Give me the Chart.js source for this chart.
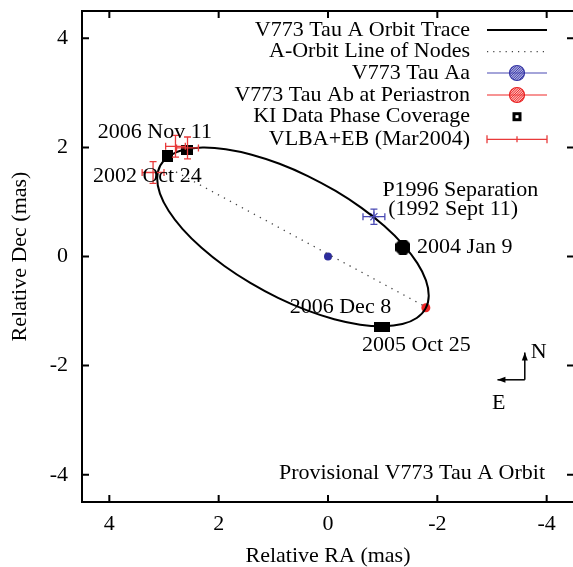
<!DOCTYPE html>
<html><head><meta charset="utf-8">
<script src="https://cdn.jsdelivr.net/npm/chart.js@4.4.0/dist/chart.umd.min.js"></script>
<style>
html,body{margin:0;padding:0;background:#fff;overflow:hidden;}
#wrap{position:relative;width:576px;height:567px;}
</style></head><body>
<div id="wrap"><canvas id="c" width="576" height="567"></canvas></div>
<script>
// ---------------- data (mas) ----------------
const tickValues = [-4, -2, 0, 2, 4];
const orbitRA  = [-1.786, -1.623, -1.361, -1.011, -0.589, -0.114, 0.395, 0.914, 1.421, 1.895, 2.313, 2.659, 2.916, 3.074, 3.125, 3.068, 2.905, 2.643, 2.293, 1.871, 1.396, 0.887, 0.368, -0.139, -0.613, -1.031, -1.377, -1.634, -1.792, -1.843];
const orbitDec = [-0.951, -1.127, -1.239, -1.280, -1.250, -1.150, -0.984, -0.759, -0.485, -0.175, 0.159, 0.502, 0.838, 1.153, 1.434, 1.667, 1.843, 1.955, 1.996, 1.966, 1.866, 1.700, 1.475, 1.201, 0.891, 0.557, 0.214, -0.122, -0.437, -0.718];
const nodesRA  = [2.78, -1.80];
const nodesDec = [1.55, -0.93];
const aaRA = [0], aaDec = [0];
const abRA = [-1.79], abDec = [-0.94];
const kiRA  = [2.93, 2.58, -1.37, -0.98];
const kiDec = [1.84, 1.95, 0.17, -1.29];
const vlbaRA = [3.20, 2.79, 2.57];
const vlbaDec = [1.54, 2.02, 1.99];
const vlbaErrRA = [0.20, 0.18, 0.20];
const vlbaErrDec = [0.20, 0.20, 0.20];
const p1996RA = [-0.84], p1996Dec = [0.73];
const p1996ErrRA = [0.20], p1996ErrDec = [0.14];
const legendLabels = ["V773 Tau A Orbit Trace", "A-Orbit Line of Nodes", "V773 Tau Aa", "V773 Tau Ab at Periastron", "KI Data Phase Coverage", "VLBA+EB (Mar2004)"];
const noteTexts = ["2006 Nov 11", "2002 Oct 24", "P1996 Separation", "(1992 Sept 11)", "2004 Jan 9", "2006 Dec 8", "2005 Oct 25", "Provisional V773 Tau A Orbit"];

// ---------------- styling / layout ----------------
const FONT = '"Liberation Serif","Times New Roman",serif';
const FS = 22;
const RED = '#f02828', BLUE_DOT = '#2c2c9c', BLUE = '#4a4ab4', ERR_RED = '#e83a3a';
const notes = [
  {ra: 4.21, dec: 2.28, align: 'left'},
  {ra: 4.30, dec: 1.48, align: 'left'},
  {ra: -2.42, dec: 1.21, align: 'center'},
  {ra: -2.29, dec: 0.87, align: 'center'},
  {ra: -1.63, dec: 0.17, align: 'left'},
  {ra: 0.70, dec: -0.93, align: 'left'},
  {ra: -0.62, dec: -1.63, align: 'left'},
  {ra: -3.97, dec: -3.97, align: 'right'}
];

const n = orbitRA.length;
const orbitPts = [];
orbitPts.push({x: orbitRA[n-1], y: orbitDec[n-1]});
for (let i = 0; i < n; i++) orbitPts.push({x: orbitRA[i], y: orbitDec[i]});
orbitPts.push({x: orbitRA[0], y: orbitDec[0]});
orbitPts.push({x: orbitRA[1], y: orbitDec[1]});

function mkCanvas(w, h, draw) {
  const c = document.createElement('canvas'); c.width = w; c.height = h;
  draw(c.getContext('2d'), w, h); return c;
}
const sq1 = mkCanvas(11, 12, (g, w, h) => { g.fillStyle = '#000'; g.fillRect(0, 0, w, h); });
const sq2 = mkCanvas(12, 10, (g, w, h) => { g.fillStyle = '#000'; g.fillRect(0, 0, w, h); });
const oct = mkCanvas(15, 15, (g, w, h) => {
  g.fillStyle = '#000'; const k = 4;
  g.beginPath(); g.moveTo(k, 0); g.lineTo(w-k, 0); g.lineTo(w, k); g.lineTo(w, h-k); g.lineTo(w-k, h);
  g.lineTo(k, h); g.lineTo(0, h-k); g.lineTo(0, k); g.closePath(); g.fill();
});
const rect = mkCanvas(16, 10, (g, w, h) => { g.fillStyle = '#000'; g.fillRect(0, 0, w, h); });

const zip = (a, b) => a.map((v, i) => ({x: v, y: b[i]}));

function hatchedCircle(ctx, x, y, r, col, fill) {
  ctx.save();
  ctx.beginPath(); ctx.arc(x, y, r, 0, Math.PI*2); ctx.fillStyle = fill; ctx.fill();
  ctx.clip();
  ctx.strokeStyle = col; ctx.lineWidth = 0.9;
  for (let d = -2*r; d <= 2*r; d += 2.4) {
    ctx.beginPath(); ctx.moveTo(x + d - r, y + r); ctx.lineTo(x + d + r, y - r); ctx.stroke();
  }
  ctx.restore();
  ctx.beginPath(); ctx.arc(x, y, r, 0, Math.PI*2); ctx.strokeStyle = col; ctx.lineWidth = 1.2; ctx.stroke();
}

function errBars(ctx, xs, ys, ex, ey, X, Y, col, cap) {
  ctx.save(); ctx.strokeStyle = col; ctx.lineWidth = 1.3;
  for (let i = 0; i < xs.length; i++) {
    const x0 = X.getPixelForValue(xs[i] + ex[i]), x1 = X.getPixelForValue(xs[i] - ex[i]);
    const y0 = Y.getPixelForValue(ys[i] + ey[i]), y1 = Y.getPixelForValue(ys[i] - ey[i]);
    const cx = X.getPixelForValue(xs[i]), cy = Y.getPixelForValue(ys[i]);
    ctx.beginPath();
    ctx.moveTo(x0, cy); ctx.lineTo(x1, cy);
    ctx.moveTo(cx, y0); ctx.lineTo(cx, y1);
    ctx.moveTo(x0, cy - cap); ctx.lineTo(x0, cy + cap);
    ctx.moveTo(x1, cy - cap); ctx.lineTo(x1, cy + cap);
    ctx.moveTo(cx - cap, y0); ctx.lineTo(cx + cap, y0);
    ctx.moveTo(cx - cap, y1); ctx.lineTo(cx + cap, y1);
    ctx.stroke();
  }
  ctx.restore();
}

function arrow(ctx, x0, y0, x1, y1) {
  ctx.beginPath(); ctx.moveTo(x0, y0); ctx.lineTo(x1, y1); ctx.stroke();
  const a = Math.atan2(y1 - y0, x1 - x0), L = 8, W = 3;
  ctx.beginPath();
  ctx.moveTo(x1, y1);
  ctx.lineTo(x1 - L*Math.cos(a) + W*Math.sin(a), y1 - L*Math.sin(a) - W*Math.cos(a));
  ctx.lineTo(x1 - L*Math.cos(a) - W*Math.sin(a), y1 - L*Math.sin(a) + W*Math.cos(a));
  ctx.closePath(); ctx.fill();
}

const decor = {
  id: 'decor',
  afterDatasetsDraw(chart) {
    const {ctx, chartArea: A} = chart;
    const X = chart.scales.x, Y = chart.scales.y;
    errBars(ctx, vlbaRA, vlbaDec, vlbaErrRA, vlbaErrDec, X, Y, ERR_RED, 3.5);
    errBars(ctx, p1996RA, p1996Dec, p1996ErrRA, p1996ErrDec, X, Y, BLUE, 3.5);

    ctx.save();
    ctx.strokeStyle = '#000'; ctx.lineWidth = 2;
    ctx.strokeRect(A.left, A.top, A.right - A.left, A.bottom - A.top);
    const T = 7;
    ctx.beginPath();
    tickValues.forEach(v => {
      const px = X.getPixelForValue(v), py = Y.getPixelForValue(v);
      ctx.moveTo(px, A.bottom); ctx.lineTo(px, A.bottom - T);
      ctx.moveTo(px, A.top); ctx.lineTo(px, A.top + T);
      ctx.moveTo(A.left, py); ctx.lineTo(A.left + T, py);
      ctx.moveTo(A.right, py); ctx.lineTo(A.right - T, py);
    });
    ctx.stroke();

    ctx.fillStyle = '#000'; ctx.font = FS + 'px ' + FONT; ctx.textBaseline = 'middle';
    notes.forEach((nt, i) => {
      ctx.textAlign = nt.align;
      ctx.fillText(noteTexts[i], X.getPixelForValue(nt.ra), Y.getPixelForValue(nt.dec));
    });

    // N / E compass
    const cx = X.getPixelForValue(-3.60), cy = Y.getPixelForValue(-2.26);
    const L = X.getPixelForValue(0) - X.getPixelForValue(0.5);
    ctx.lineWidth = 1.5; ctx.strokeStyle = '#000'; ctx.fillStyle = '#000';
    arrow(ctx, cx, cy, cx, cy - L);
    arrow(ctx, cx, cy, cx - L, cy);
    ctx.textAlign = 'center';
    ctx.fillText('N', cx + 14, cy - L + 0);
    ctx.fillText('E', cx - 26, cy + 23);

    // legend
    const rows = [30, 51.7, 73, 95, 116.7, 139.3];
    const tx = 470, s0 = 487, s1 = 547, sc = 517;
    ctx.textAlign = 'right';
    rows.forEach((ry, i) => { ctx.fillStyle = '#000'; ctx.fillText(legendLabels[i], tx, ry); });
    ctx.strokeStyle = '#000'; ctx.lineWidth = 2;
    ctx.beginPath(); ctx.moveTo(s0, rows[0]); ctx.lineTo(s1, rows[0]); ctx.stroke();
    ctx.strokeStyle = '#444'; ctx.lineWidth = 1.2; ctx.setLineDash([1.2, 5]);
    ctx.beginPath(); ctx.moveTo(s0, rows[1]); ctx.lineTo(s1, rows[1]); ctx.stroke();
    ctx.setLineDash([]);
    ctx.strokeStyle = BLUE; ctx.lineWidth = 1.2;
    ctx.beginPath(); ctx.moveTo(s0, rows[2]); ctx.lineTo(s1, rows[2]); ctx.stroke();
    hatchedCircle(ctx, sc, rows[2], 7.5, '#3434a4', 'rgba(110,110,200,0.55)');
    ctx.strokeStyle = RED; ctx.lineWidth = 1.2;
    ctx.beginPath(); ctx.moveTo(s0, rows[3]); ctx.lineTo(s1, rows[3]); ctx.stroke();
    hatchedCircle(ctx, sc, rows[3], 7.5, '#e82020', 'rgba(255,120,120,0.55)');
    ctx.fillStyle = '#000'; ctx.fillRect(sc - 4.5, rows[4] - 4.5, 9, 9);
    ctx.fillStyle = '#fff'; ctx.fillRect(sc - 1.5, rows[4] - 1.5, 3, 3);
    ctx.strokeStyle = ERR_RED; ctx.lineWidth = 1.3;
    ctx.beginPath();
    ctx.moveTo(s0, rows[5]); ctx.lineTo(s1, rows[5]);
    ctx.moveTo(s0, rows[5] - 4); ctx.lineTo(s0, rows[5] + 4);
    ctx.moveTo(s1, rows[5] - 4); ctx.lineTo(s1, rows[5] + 4);
    ctx.moveTo(sc, rows[5] - 3); ctx.lineTo(sc, rows[5] + 3);
    ctx.stroke();
    ctx.restore();
  }
};

const axisFont = {family: FONT, size: FS};
const noPad = s => { s.paddingLeft = 0; s.paddingRight = 0; s.paddingTop = 0; s.paddingBottom = 0; };
new Chart(document.getElementById('c'), {
  type: 'scatter',
  data: {
    datasets: [
      {
        label: legendLabels[0], data: orbitPts, showLine: true, borderColor: '#000', borderWidth: 2,
        pointRadius: 0, tension: 0.4,
        segment: {borderColor: c => (c.p0DataIndex === 0 || c.p1DataIndex === orbitPts.length - 1) ? 'rgba(0,0,0,0)' : '#000'}
      },
      {label: legendLabels[1], data: zip(nodesRA, nodesDec), showLine: true, borderColor: '#444', borderWidth: 1.3, borderDash: [1.3, 5.5], pointRadius: 0},
      {label: legendLabels[2], data: zip(aaRA, aaDec), pointRadius: 4, backgroundColor: BLUE_DOT, borderWidth: 0},
      {label: legendLabels[3], data: zip(abRA, abDec), pointRadius: 4.5, backgroundColor: RED, borderWidth: 0},
      {label: legendLabels[4], data: zip(kiRA, kiDec), pointStyle: [sq1, sq2, oct, rect], pointRadius: 6},
      {label: legendLabels[5], data: zip(vlbaRA, vlbaDec), pointRadius: 0},
      {label: 'P1996', data: zip(p1996RA, p1996Dec), pointStyle: 'star', pointRadius: 5, borderColor: BLUE, borderWidth: 1.2, backgroundColor: 'rgba(0,0,0,0)'}
    ]
  },
  options: {
    responsive: false, animation: false, devicePixelRatio: 1,
    layout: {autoPadding: false, padding: {top: 11, right: 2, left: 0, bottom: 0}},
    plugins: {legend: {display: false}, tooltip: {enabled: false}},
    scales: {
      x: {
        type: 'linear', reverse: true, min: -4.5, max: 4.5,
        afterBuildTicks: s => { s.ticks = tickValues.map(v => ({value: v})); },
        afterFit: s => { s.height = 65; noPad(s); },
        grid: {display: false, drawTicks: false}, border: {display: false},
        ticks: {font: axisFont, color: '#000', padding: 9, maxRotation: 0, callback: v => String(v)},
        title: {display: true, text: 'Relative RA (mas)', font: {family: FONT, size: FS, lineHeight: 1}, color: '#000', padding: {top: 0, bottom: 0}}
      },
      y: {
        type: 'linear', min: -4.5, max: 4.5,
        afterBuildTicks: s => { s.ticks = tickValues.map(v => ({value: v})); },
        afterFit: s => { s.width = 82; noPad(s); },
        grid: {display: false, drawTicks: false}, border: {display: false},
        ticks: {font: axisFont, color: '#000', padding: 14, callback: v => String(v)},
        title: {display: true, text: 'Relative Dec (mas)', font: {family: FONT, size: FS, lineHeight: 1}, color: '#000', padding: {top: 9, bottom: 0}}
      }
    }
  },
  plugins: [decor]
});
</script>
</body></html>
